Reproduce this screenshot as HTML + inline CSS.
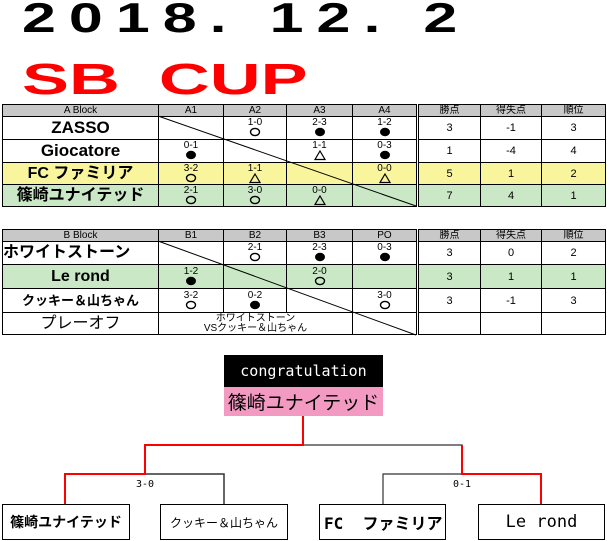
<!DOCTYPE html>
<html><head><meta charset="utf-8"><style>
body{margin:0;width:607px;height:541px;background:#fff;position:relative;overflow:hidden;font-family:"Liberation Sans","Noto Sans CJK JP",sans-serif;}
.abs{position:absolute;}
table{border-collapse:collapse;table-layout:fixed;position:absolute;}
td{border:1px solid #000;padding:0;text-align:center;vertical-align:middle;overflow:hidden;white-space:nowrap;line-height:16px;}
tr.h td{background:#c8c8c8;font-size:10px;line-height:10px;height:11px;}
.nm{font-weight:bold;font-size:17px;}
.sc{font-size:10px;line-height:9px;height:9px;}
.sy{height:11px;line-height:0;}
.st{font-size:11px;}
.y td{background:#f9f59c;}
.g td{background:#cae8c6;}
.box{position:absolute;border:1px solid #000;box-sizing:border-box;top:504px;height:36px;font-family:"DejaVu Sans Mono","Noto Sans CJK JP",monospace;display:flex;align-items:center;justify-content:center;white-space:nowrap;}
</style></head><body>
<svg width="0" height="0" style="position:absolute">
<defs>
<g id="o"><ellipse cx="6" cy="5" rx="4.5" ry="3.6" fill="none" stroke="#000" stroke-width="1.4"/></g>
<g id="f"><ellipse cx="6" cy="5" rx="5" ry="4.2" fill="#000"/></g>
<g id="t"><polygon points="6,1 11,9.5 1,9.5" fill="none" stroke="#000" stroke-width="1.2"/></g>
</defs></svg>
<div class="abs" style="left:22px;top:-6px;font-size:42px;font-weight:bold;letter-spacing:9px;color:#000;transform:scaleX(1.45);transform-origin:0 0;white-space:nowrap;">2018. 12. 2</div>
<div class="abs" style="left:22px;top:55px;font-size:44px;font-weight:bold;color:#f00;transform:scaleX(1.6);transform-origin:0 0;white-space:nowrap;">SB&nbsp;&nbsp;CUP</div>

<!-- A block -->
<table style="left:2px;top:104px;width:414px;">
<colgroup><col style="width:156px"><col style="width:65px"><col style="width:63px"><col style="width:66px"><col style="width:64px"></colgroup>
<tr class="h"><td>A Block</td><td>A1</td><td>A2</td><td>A3</td><td>A4</td></tr>
<tr style="height:23px"><td class="nm">ZASSO</td><td></td><td><div class="sc">1-0</div><div class="sy"><svg width="12" height="11"><use href="#o"/></svg></div></td><td><div class="sc">2-3</div><div class="sy"><svg width="12" height="11"><use href="#f"/></svg></div></td><td><div class="sc">1-2</div><div class="sy"><svg width="12" height="11"><use href="#f"/></svg></div></td></tr>
<tr style="height:23px"><td class="nm">Giocatore</td><td><div class="sc">0-1</div><div class="sy"><svg width="12" height="11"><use href="#f"/></svg></div></td><td></td><td><div class="sc">1-1</div><div class="sy"><svg width="12" height="11"><use href="#t"/></svg></div></td><td><div class="sc">0-3</div><div class="sy"><svg width="12" height="11"><use href="#f"/></svg></div></td></tr>
<tr class="y" style="height:22px"><td class="nm" style="font-size:16px">FC ファミリア</td><td><div class="sc">3-2</div><div class="sy"><svg width="12" height="11"><use href="#o"/></svg></div></td><td><div class="sc">1-1</div><div class="sy"><svg width="12" height="11"><use href="#t"/></svg></div></td><td></td><td><div class="sc">0-0</div><div class="sy"><svg width="12" height="11"><use href="#t"/></svg></div></td></tr>
<tr class="g" style="height:22px"><td class="nm" style="font-size:16px">篠崎ユナイテッド</td><td><div class="sc">2-1</div><div class="sy"><svg width="12" height="11"><use href="#o"/></svg></div></td><td><div class="sc">3-0</div><div class="sy"><svg width="12" height="11"><use href="#o"/></svg></div></td><td><div class="sc">0-0</div><div class="sy"><svg width="12" height="11"><use href="#t"/></svg></div></td><td></td></tr>
</table>
<table style="left:418px;top:104px;width:187px;">
<colgroup><col style="width:62px"><col style="width:61px"><col style="width:64px"></colgroup>
<tr class="h"><td>勝点</td><td>得失点</td><td>順位</td></tr>
<tr style="height:23px"><td class="st">3</td><td class="st">-1</td><td class="st">3</td></tr>
<tr style="height:23px"><td class="st">1</td><td class="st">-4</td><td class="st">4</td></tr>
<tr class="y" style="height:22px"><td class="st">5</td><td class="st">1</td><td class="st">2</td></tr>
<tr class="g" style="height:22px"><td class="st">7</td><td class="st">4</td><td class="st">1</td></tr>
</table>

<!-- B block -->
<table style="left:2px;top:229px;width:414px;">
<colgroup><col style="width:156px"><col style="width:65px"><col style="width:63px"><col style="width:66px"><col style="width:64px"></colgroup>
<tr class="h"><td>B Block</td><td>B1</td><td>B2</td><td>B3</td><td>PO</td></tr>
<tr style="height:23px"><td class="nm" style="font-size:16px;text-align:left">ホワイトストーン</td><td></td><td><div class="sc">2-1</div><div class="sy"><svg width="12" height="11"><use href="#o"/></svg></div></td><td><div class="sc">2-3</div><div class="sy"><svg width="12" height="11"><use href="#f"/></svg></div></td><td><div class="sc">0-3</div><div class="sy"><svg width="12" height="11"><use href="#f"/></svg></div></td></tr>
<tr class="g" style="height:24px"><td class="nm" style="font-size:16px">Le rond</td><td><div class="sc">1-2</div><div class="sy"><svg width="12" height="11"><use href="#f"/></svg></div></td><td></td><td><div class="sc">2-0</div><div class="sy"><svg width="12" height="11"><use href="#o"/></svg></div></td><td></td></tr>
<tr style="height:24px"><td class="nm" style="font-size:13px">クッキー＆山ちゃん</td><td><div class="sc">3-2</div><div class="sy"><svg width="12" height="11"><use href="#o"/></svg></div></td><td><div class="sc">0-2</div><div class="sy"><svg width="12" height="11"><use href="#f"/></svg></div></td><td></td><td><div class="sc">3-0</div><div class="sy"><svg width="12" height="11"><use href="#o"/></svg></div></td></tr>
<tr style="height:22px"><td class="nm" style="font-size:16px;font-weight:normal">プレーオフ</td><td colspan="3" style="font-size:10px;line-height:10px">ホワイトストーン<br>VSクッキー＆山ちゃん</td><td></td></tr>
</table>
<table style="left:418px;top:229px;width:187px;">
<colgroup><col style="width:62px"><col style="width:61px"><col style="width:64px"></colgroup>
<tr class="h"><td>勝点</td><td>得失点</td><td>順位</td></tr>
<tr style="height:23px"><td class="st">3</td><td class="st">0</td><td class="st">2</td></tr>
<tr class="g" style="height:24px"><td class="st">3</td><td class="st">1</td><td class="st">1</td></tr>
<tr style="height:24px"><td class="st">3</td><td class="st">-1</td><td class="st">3</td></tr>
<tr style="height:22px"><td></td><td></td><td></td></tr>
</table>

<svg class="abs" style="left:0;top:0" width="607" height="541">
<line x1="158" y1="116" x2="416" y2="206" stroke="#000" stroke-width="1"/>
<line x1="158" y1="241" x2="416" y2="335" stroke="#000" stroke-width="1"/>
<polyline points="303,445 462,445 462,474" fill="none" stroke="#333" stroke-width="1.2"/>
<polyline points="145,474 224,474 224,504" fill="none" stroke="#333" stroke-width="1.5"/>
<polyline points="383,504 383,474 462,474" fill="none" stroke="#333" stroke-width="1.2"/>
<polyline points="303,416 303,445 145,445 145,474 65,474 65,504" fill="none" stroke="#f00" stroke-width="2"/>
<polyline points="462,445 462,474 541,474 541,504" fill="none" stroke="#f00" stroke-width="2"/>
<text x="145" y="487" font-size="10" text-anchor="middle" font-family="DejaVu Sans Mono,monospace">3-0</text>
<text x="462" y="487" font-size="10" text-anchor="middle" font-family="DejaVu Sans Mono,monospace">0-1</text>
</svg>

<div class="abs" style="left:224px;top:355px;width:159px;height:32px;background:#000;color:#fff;font-family:'DejaVu Sans Mono',monospace;font-size:15px;display:flex;align-items:center;justify-content:center;">congratulation</div>
<div class="abs" style="left:224px;top:387px;width:159px;height:29px;background:#f39ac3;color:#000;font-size:19px;display:flex;align-items:center;justify-content:center;white-space:nowrap;">篠崎ユナイテッド</div>

<div class="box" style="left:2px;width:128px;font-size:14px;font-weight:bold;">篠崎ユナイテッド</div>
<div class="box" style="left:160px;width:128px;font-size:12px;">クッキー＆山ちゃん</div>
<div class="box" style="left:319px;width:127px;font-size:16px;justify-content:flex-start;padding-left:4px;font-weight:bold;">FC&nbsp;&nbsp;ファミリア</div>
<div class="box" style="left:478px;width:127px;font-size:17px;">Le rond</div>
</body></html>
